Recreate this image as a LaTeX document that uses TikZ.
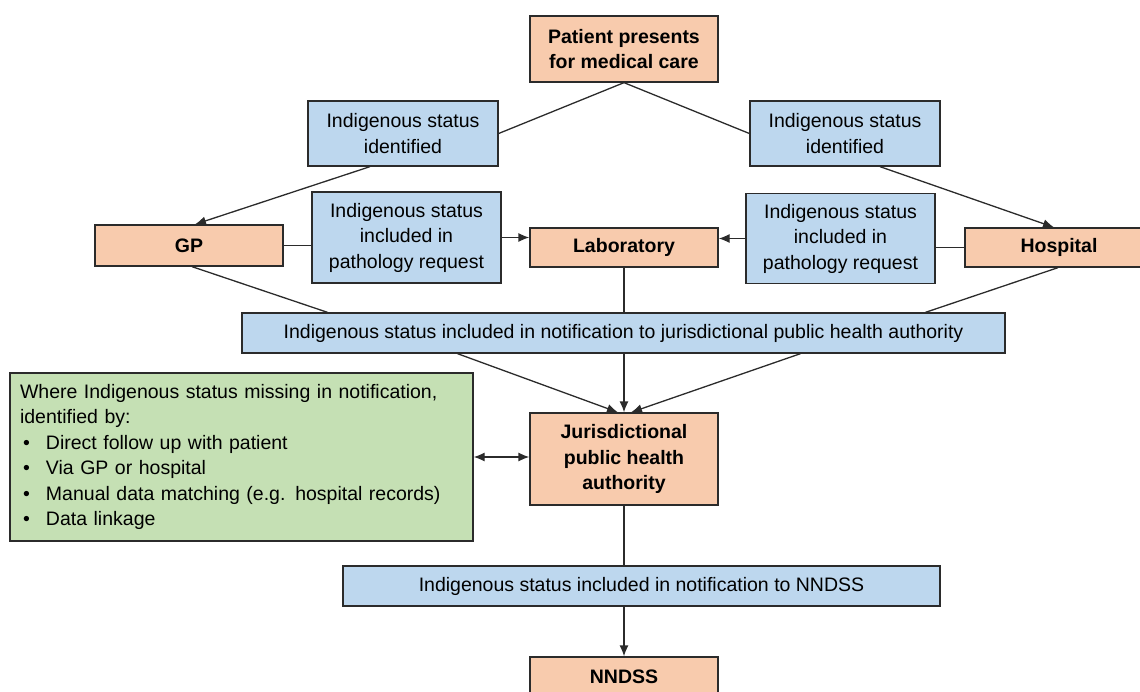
\documentclass[tikz,border=0pt]{standalone}
\usepackage{fontspec}
\setmainfont{Liberation Sans}
\usetikzlibrary{arrows.meta,calc}
\definecolor{orangefill}{HTML}{F8CBAD}
\definecolor{bluefill}{HTML}{BDD7EE}
\definecolor{greenfill}{HTML}{C5E0B4}
\definecolor{edgecol}{HTML}{2B2B2B}
\begin{document}
\begin{tikzpicture}[x=1pt,y=-1pt,
  base/.style={draw=edgecol,line width=1.3pt,inner sep=0pt,align=center,
    font=\fontsize{19.5}{25.5}\selectfont},
  obox/.style={base,fill=orangefill,font=\fontsize{19.5}{25.5}\selectfont\bfseries},
  bbox/.style={base,fill=bluefill},
  gbox/.style={base,fill=greenfill},
  conn/.style={draw=edgecol,line width=1.3pt},
  arr/.style={conn,-{Latex[length=11pt,width=9pt]}},
  darr/.style={conn,{Latex[length=11pt,width=9pt]}-{Latex[length=11pt,width=9pt]}}
]
\useasboundingbox (0,0) rectangle (1140,692);
\node[obox,minimum width=188pt,minimum height=66pt] (patient) at (624,49) {Patient presents\\for medical care};
\node[bbox,minimum width=190pt,minimum height=65pt] (identL) at (403,133.5) {Indigenous status\\identified};
\node[bbox,minimum width=190pt,minimum height=65pt] (identR) at (845,133.5) {Indigenous status\\identified};
\node[obox,minimum width=188pt,minimum height=41pt] (gp) at (189,245.5) {GP};
\node[bbox,minimum width=189pt,minimum height=91pt] (pathL) at (406.5,237.5) {Indigenous status\\included in\\pathology request};
\node[obox,minimum width=188pt,minimum height=39pt] (lab) at (624,247.5) {Laboratory};
\node[bbox,minimum width=189pt,minimum height=90pt] (pathR) at (840.5,238.5) {Indigenous status\\included in\\pathology request};
\node[obox,minimum width=188pt,minimum height=39pt] (hosp) at (1059,247.5) {Hospital};
\node[bbox,minimum width=763pt,minimum height=40pt] (notif) at (623.5,333) {Indigenous status included in notification to jurisdictional public health authority};
\node[gbox,minimum width=463pt,minimum height=168pt,text width=443pt,align=left] (green) at (241.5,457)
 {Where Indigenous status missing in notification,\\
  identified by:\\
  \hspace*{3pt}\makebox[23pt][l]{\textbullet}Direct follow up with patient\\
  \hspace*{3pt}\makebox[23pt][l]{\textbullet}Via GP or hospital\\
  \hspace*{3pt}\makebox[23pt][l]{\textbullet}Manual data matching (e.g. hospital records)\\
  \hspace*{3pt}\makebox[23pt][l]{\textbullet}Data linkage};
\node[obox,minimum width=188pt,minimum height=92pt] (jpha) at (624,459) {Jurisdictional\\public health\\authority};
\node[bbox,minimum width=597pt,minimum height=40pt] (notif2) at (641.5,586) {Indigenous status included in notification to NNDSS};
\node[obox,minimum width=188pt,minimum height=40pt] (nndss) at (624,677) {NNDSS};
% connectors
\draw[conn] (patient.south) -- (identL.east);
\draw[conn] (patient.south) -- (identR.west);
\draw[arr] ([xshift=-33pt]identL.south) -- ([xshift=6pt]gp.north);
\draw[arr] ([xshift=35pt]identR.south) -- ([xshift=-5pt]hosp.north);
\draw[conn] (gp.east) -- (gp.east -| pathL.west);
\draw[arr] (pathL.east) -- (pathL.east -| lab.west);
\draw[conn] (hosp.west) -- (hosp.west -| pathR.east);
\draw[arr] (pathR.west) -- (pathR.west -| lab.east);
\draw[conn] ([xshift=3pt]gp.south) -- ([xshift=-296pt]notif.north);
\draw[conn] (lab.south) -- (lab.south |- notif.north);
\draw[conn] ([xshift=-1pt]hosp.south) -- ([xshift=302pt]notif.north);
\draw[arr] ([xshift=-166pt]notif.south) -- ([xshift=-6pt]jpha.north);
\draw[arr] (jpha.north |- notif.south) -- (jpha.north);
\draw[arr] ([xshift=177pt]notif.south) -- ([xshift=7pt]jpha.north);
\draw[darr] (green.east) -- (jpha.west |- green.east);
\draw[conn] (jpha.south) -- (jpha.south |- notif2.north);
\draw[arr] (nndss.north |- notif2.south) -- (nndss.north);
\end{tikzpicture}
\end{document}
